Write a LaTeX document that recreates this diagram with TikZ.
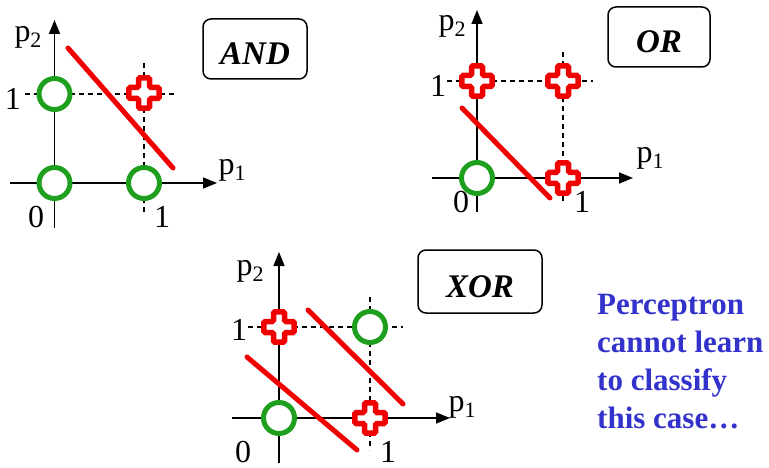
\documentclass[tikz,border=0pt]{standalone}
\usepackage{fontspec}
\setmainfont{Liberation Serif}
\usetikzlibrary{arrows.meta}
\definecolor{pgreen}{RGB}{30,160,30}
\definecolor{pred}{RGB}{240,0,0}
\definecolor{pblue}{RGB}{51,51,204}
\newcommand\psub[1]{p\raisebox{-6pt}{\fontsize{22}{22}\selectfont #1}}
\tikzset{
  axis/.style={line width=1.5pt,-{Triangle[length=14pt,width=11pt]}},
  guide/.style={line width=1.1pt,dash pattern=on 5pt off 4pt},
  ring/.style={circle,draw=pgreen,line width=5pt,fill=white,minimum size=31pt,inner sep=0pt},
  sepline/.style={draw=pred,line width=5pt,line cap=round},
  lbl/.style={font=\fontsize{32}{32}\selectfont,inner sep=0pt,anchor=base},
  gatebox/.style={draw,rounded corners=8pt,line width=1.5pt,inner sep=0pt,
    font=\fontsize{33}{33}\selectfont\bfseries\itshape,text height=32pt,text depth=0pt},
  plusmark/.pic={\draw[pred,line width=5.5pt,fill=white,rounded corners=1.5pt]
    (-5.5,-15.2) -- (5.5,-15.2) -- (5.5,-5.5) -- (15.2,-5.5) -- (15.2,5.5) -- (5.5,5.5)
    -- (5.5,15.2) -- (-5.5,15.2) -- (-5.5,5.5) -- (-15.2,5.5) -- (-15.2,-5.5) -- (-5.5,-5.5) -- cycle;}
}
\begin{document}
\begin{tikzpicture}[x=1pt,y=-1pt]
\useasboundingbox (0,0) rectangle (769,468);

% ---------------- AND ----------------
\coordinate (aXs) at (10,183);  \coordinate (aXe) at (217,183);
\coordinate (aYs) at (54.5,228); \coordinate (aYe) at (54.5,20);
\coordinate (aHs) at (25,94);   \coordinate (aHe) at (175,94);
\coordinate (aVs) at (144,63);  \coordinate (aVe) at (144,213);
\draw[axis] (aXs) -- (aXe);
\draw[axis] (aYs) -- (aYe);
\draw[guide] (aHs) -- (aHe);
\draw[guide] (aVs) -- (aVe);
\node[ring] (a00) at (54.5,183) {};
\node[ring] (a01) at (54.5,94) {};
\node[ring] (a10) at (144,183) {};
\pic at (144,93) {plusmark};
\coordinate (aLs) at (68,48); \coordinate (aLe) at (173,168);
\draw[sepline] (aLs) -- (aLe);
\node[lbl] (ap2) at (28,42) {\psub{2}};
\node[lbl] (ay1) at (13,110) {1};
\node[lbl] (ax0) at (36,227) {0};
\node[lbl] (ax1) at (162,227) {1};
\node[lbl] (ap1) at (232,175) {\psub{1}};
\node[gatebox,minimum width=104pt,minimum height=60pt] (andbox) at (255,49) {AND};

% ---------------- OR ----------------
\coordinate (oXs) at (432,178);  \coordinate (oXe) at (633,178);
\coordinate (oYs) at (477,212);  \coordinate (oYe) at (477,10);
\coordinate (oHs) at (447,81);   \coordinate (oHe) at (593,81);
\coordinate (oVs) at (563,52);   \coordinate (oVe) at (563,203);
\draw[axis] (oXs) -- (oXe);
\draw[axis] (oYs) -- (oYe);
\draw[guide] (oHs) -- (oHe);
\draw[guide] (oVs) -- (oVe);
\node[ring] (o00) at (477,178) {};
\pic at (477,81) {plusmark};
\pic at (563,81) {plusmark};
\pic at (563,178) {plusmark};
\coordinate (oLs) at (462,108); \coordinate (oLe) at (550,198);
\draw[sepline] (oLs) -- (oLe);
\node[lbl] (op2) at (452,31) {\psub{2}};
\node[lbl] (oy1) at (438,97) {1};
\node[lbl] (ox0) at (461,213) {0};
\node[lbl] (ox1) at (582,213) {1};
\node[lbl] (op1) at (650,163) {\psub{1}};
\node[gatebox,minimum width=102pt,minimum height=60pt] (orbox) at (659,37) {OR};

% ---------------- XOR ----------------
\coordinate (xXs) at (232,418);  \coordinate (xXe) at (450,418);
\coordinate (xYs) at (279,463);  \coordinate (xYe) at (279,252);
\coordinate (xHs) at (248,327);  \coordinate (xHe) at (403,327);
\coordinate (xVs) at (370,297);  \coordinate (xVe) at (370,450);
\draw[axis] (xXs) -- (xXe);
\draw[axis] (xYs) -- (xYe);
\draw[guide] (xHs) -- (xHe);
\draw[guide] (xVs) -- (xVe);
\node[ring] (x00) at (279,418) {};
\node[ring] (x11) at (370,327) {};
\pic at (279,327) {plusmark};
\pic at (370,418) {plusmark};
\coordinate (xLs) at (247,357); \coordinate (xLe) at (357,450);
\coordinate (xMs) at (308,310); \coordinate (xMe) at (403,404);
\draw[sepline] (xLs) -- (xLe);
\draw[sepline] (xMs) -- (xMe);
\node[lbl] (xp2) at (250,275) {\psub{2}};
\node[lbl] (xy1) at (239,340) {1};
\node[lbl] (xx0) at (243,462) {0};
\node[lbl] (xx1) at (388,462) {1};
\node[lbl] (xp1) at (462,411) {\psub{1}};
\node[gatebox,minimum width=124pt,minimum height=63pt] (xorbox) at (480,281.5) {XOR};

% ---------------- note ----------------
\node[anchor=base west,inner sep=0pt,text=pblue,align=left,
  font=\fontsize{31}{37.7}\selectfont\bfseries] (note) at (597,428)
  {Perceptron\\cannot learn\\to classify\\this case\ldots};
\end{tikzpicture}
\end{document}
